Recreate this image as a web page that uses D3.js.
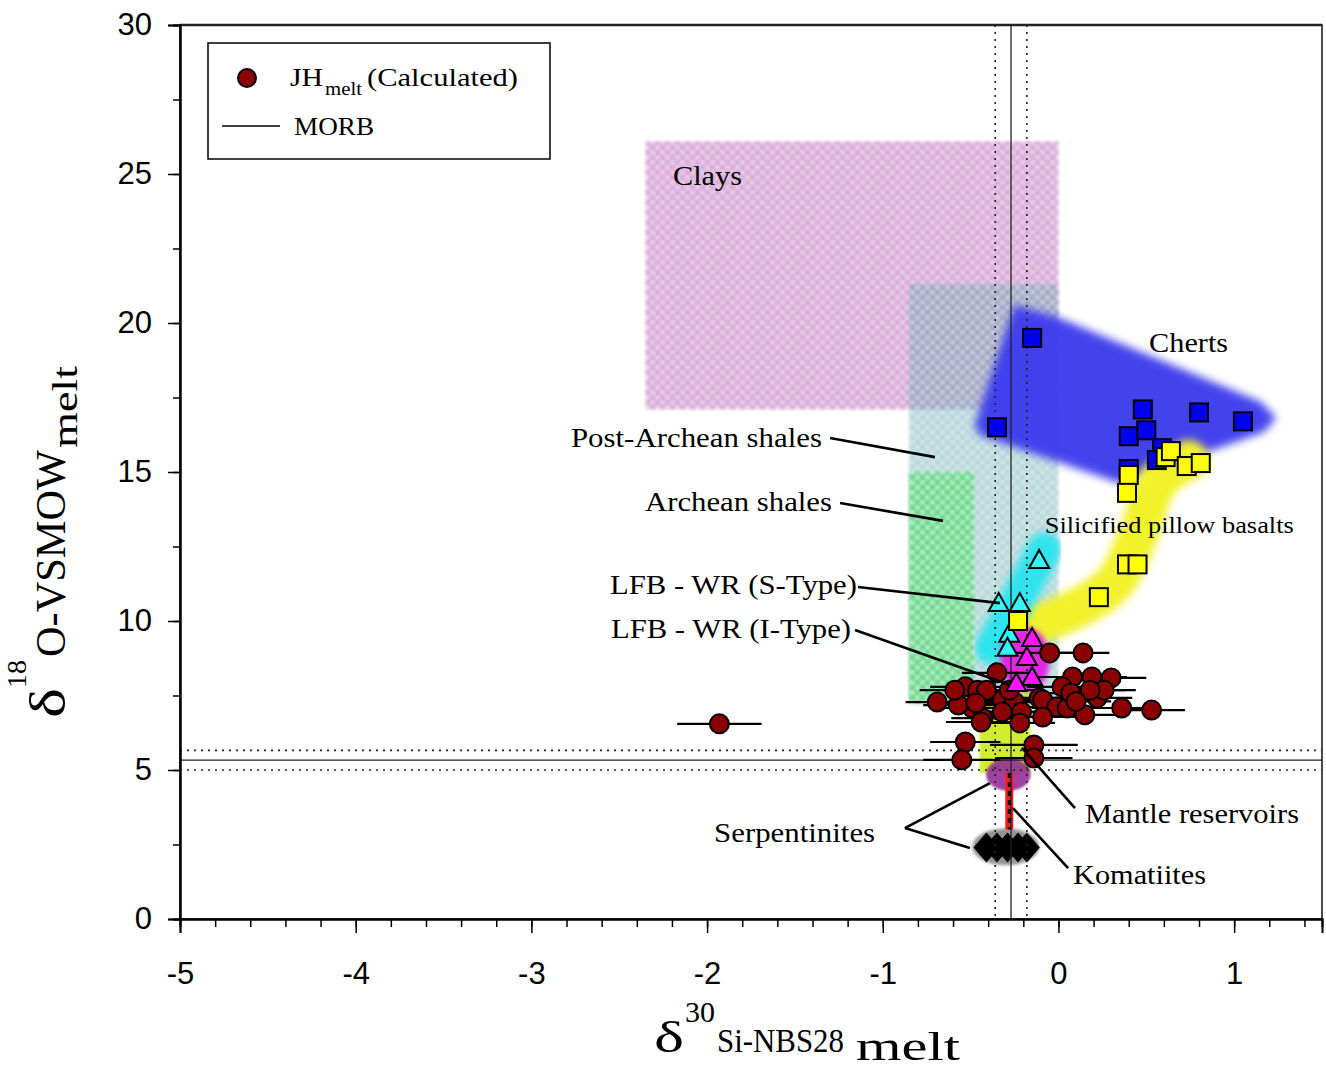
<!DOCTYPE html>
<html><head><meta charset="utf-8">
<script src="https://cdn.jsdelivr.net/npm/d3@7"></script>
<style>body{margin:0;background:#fff}</style>
</head><body>
<svg id="c" width="1326" height="1071"></svg>
<script>
// ---------- data ----------
const xTickVals = [-5,-4,-3,-2,-1,0,1];
const yTickVals = [0,5,10,15,20,25,30];
const xTickLabels = ["-5","-4","-3","-2","-1","0","1"];
const yTickLabels = ["0","5","10","15","20","25","30"];

// JH melt (calculated): d30Si, d18O, 1 s.d. on d30Si
const jhSi  = [-1.93,-0.69,-0.53,-0.46,-0.35,-0.49,-0.43,-0.32,-0.25,-0.21,-0.11,-0.57,-0.41,0.14,-0.05,0.30,0.08,0.02,0.19,0.22,-0.09,-0.01,0.15,0.36,0.53,-0.09,0.05,-0.53,-0.55,-0.14,-0.14,-0.22,-0.44,-0.28,-0.59,0.07,0.26,-0.32,0.18,0.10,-0.47];
const jhO   = [6.55,7.28,7.79,7.68,8.26,7.08,6.74,7.35,7.28,6.95,7.42,7.18,7.68,8.93,8.93,8.09,8.12,7.79,8.12,7.42,7.35,7.11,6.85,7.08,7.01,6.78,7.08,5.94,5.34,5.84,5.40,6.58,6.61,7.68,7.68,7.58,7.68,6.95,7.68,7.30,7.25];
const jhErr = [0.24,0.18,0.2,0.2,0.2,0.2,0.18,0.2,0.2,0.22,0.2,0.2,0.18,0.15,0.2,0.2,0.22,0.2,0.2,0.2,0.22,0.2,0.2,0.18,0.19,0.2,0.2,0.2,0.22,0.25,0.22,0.2,0.2,0.2,0.2,0.2,0.18,0.2,0.2,0.2,0.22];

const chertSi  = [-0.15,-0.35,0.48,0.80,1.05,0.40,0.50,0.59,0.56,0.40];
const chertO   = [19.5,16.5,17.1,17.0,16.7,16.2,16.4,15.8,15.4,15.1];
const pillowSi = [0.61,0.64,0.73,0.81,0.40,0.39,0.39,0.45,0.23,-0.23];
const pillowO  = [15.5,15.7,15.2,15.3,14.9,14.3,11.9,11.9,10.8,10.0];
const sTypeSi  = [-0.11,-0.34,-0.22,-0.28,-0.29];
const sTypeO   = [12.05,10.6,10.6,9.57,9.1];
const iTypeSi  = [-0.15,-0.18,-0.15,-0.24];
const iTypeO   = [9.43,8.79,8.12,7.92];
const serpSi   = [-0.41,-0.35,-0.29,-0.23,-0.18];
const serpO    = [2.4,2.4,2.4,2.4,2.4];

// MORB reference
const morbSi = -0.27, morbSiSd = 0.09;
const morbO = 5.33, morbOSd = 0.33;

// fields
const claysField   = [-2.35, 0.0, 17.1, 26.1];     // x0,x1,y0,y1
const postArchField= [-0.85, 0.0, 7.2, 21.3];
const archField    = [-0.85, -0.48, 7.3, 15.0];
const mantleField  = [-0.45, -0.16, 4.9, 7.6];
const chertField   = [[-0.25,20.6],[0.006,20.17],[1.153,17.35],[1.239,16.81],[1.17,16.34],[0.347,14.63],[-0.449,16.24],[-0.477,16.58]];
const pillowField  = [[-0.25,9.7],[0.06,10.3],[0.32,11.3],[0.46,13.0],[0.57,14.7],[0.74,15.4]];
const sTypeField   = [[-0.38,9.1],[-0.08,12.4]];
const iTypeField   = [-0.19, 8.7, 0.14, 1.1];     // cx, cy, rx, ry
const komField     = [-0.285, 4.85, 0.127, 0.55];
const komLine      = [-0.28, 4.9, 3.0];
const serpField    = [-0.30, 2.42, 0.19, 0.62];

// annotations
const notes = [
  {t:"Clays", x:-2.194, y:24.63, a:"start", w:69},
  {t:"Cherts", x:0.516, y:19.03, a:"start", w:79},
  {t:"Post-Archean shales", x:-1.346, y:15.84, a:"end", w:251, l:[[[-1.30,16.14],[-0.703,15.50]]]},
  {t:"Archean shales", x:-1.289, y:13.69, a:"end", w:187, l:[[[-1.243,13.96],[-0.657,13.36]]]},
  {t:"Silicified pillow basalts", x:-0.078, y:12.95, a:"start", w:249, fs:24},
  {t:"LFB - WR (S-Type)", x:-1.147, y:10.91, a:"end", w:247, l:[[[-1.141,11.14],[-0.333,10.60]]]},
  {t:"LFB - WR (I-Type)", x:-1.181, y:9.43, a:"end", w:240, l:[[[-1.158,9.70],[-0.276,7.85]]]},
  {t:"Mantle reservoirs", x:0.151, y:3.22, a:"start", w:214, l:[[[0.094,3.72],[-0.208,5.74]]]},
  {t:"Serpentinites", x:-1.96, y:2.58, a:"start", w:161, l:[[[-0.874,3.05],[-0.39,4.56]],[[-0.874,3.05],[-0.504,2.38]]]},
  {t:"Komatiites", x:0.083, y:1.17, a:"start", w:133, l:[[[0.055,1.71],[-0.259,3.72]]]}
];

// ---------- layout ----------
const L=180, R=1322, T=25, B=919;
const svg = d3.select("#c");
const x = d3.scaleLinear().domain([-5,1.5]).range([L,R]);
const y = d3.scaleLinear().domain([0,30]).range([B,T]);
const serif = "'Liberation Serif','Times New Roman',serif";
const sans = "'Liberation Sans',Arial,sans-serif";

const defs = svg.append("defs");
function blur(id, s){
  defs.append("filter").attr("id",id).attr("x","-30%").attr("y","-30%").attr("width","160%").attr("height","160%")
    .append("feGaussianBlur").attr("stdDeviation",s);
}
blur("b1",1.2); blur("b15",1.6); blur("b2",2.5); blur("b3",4);
function checker(id, base, spot, size){
  const p = defs.append("pattern").attr("id",id).attr("patternUnits","userSpaceOnUse").attr("width",size).attr("height",size);
  p.append("rect").attr("width",size).attr("height",size).attr("fill",base);
  p.append("circle").attr("cx",size/4).attr("cy",size/4).attr("r",size/4.2).attr("fill",spot);
  p.append("circle").attr("cx",3*size/4).attr("cy",3*size/4).attr("r",size/4.2).attr("fill",spot);
}
checker("pClay","#d29ad2","#ecd0ec",10);
checker("pShale","#5ea6ac","#a8d4d6",10);
checker("pArch","#4ad872","#c0f4cc",10);

svg.append("clipPath").attr("id","plot").append("rect").attr("x",L).attr("y",T).attr("width",R-L).attr("height",B-T);
const g = svg.append("g").attr("clip-path","url(#plot)");

function rectF(f, fill, op, filt){
  g.append("rect").attr("x",x(f[0])).attr("y",y(f[3])).attr("width",x(f[1])-x(f[0])).attr("height",y(f[2])-y(f[3]))
   .attr("fill",fill).attr("opacity",op).attr("filter",`url(#${filt})`);
}
rectF(claysField,"url(#pClay)",0.85,"b15");
rectF(postArchField,"url(#pShale)",0.45,"b15");
rectF(archField,"url(#pArch)",0.8,"b15");

g.append("path").attr("d", d3.line().x(d=>x(d[0])).y(d=>y(d[1]))(chertField)+"Z")
  .attr("fill","#3c3cee").attr("opacity",0.97).attr("filter","url(#b3)");
g.append("path").attr("d", d3.line().curve(d3.curveCatmullRom).x(d=>x(d[0])).y(d=>y(d[1]))(pillowField))
  .attr("fill","none").attr("stroke","#f2f22a").attr("stroke-width",40).attr("stroke-linecap","round").attr("filter","url(#b3)");
g.append("path").attr("d", d3.line().x(d=>x(d[0])).y(d=>y(d[1]))(sTypeField))
  .attr("stroke","#2ee4ee").attr("stroke-width",34).attr("stroke-linecap","round").attr("filter","url(#b3)");
g.append("ellipse").attr("cx",x(iTypeField[0])).attr("cy",y(iTypeField[1]))
  .attr("rx",x(iTypeField[2])-x(0)).attr("ry",y(0)-y(iTypeField[3])).attr("fill","#e226e2").attr("filter","url(#b2)");
rectF(mantleField,"#ccec1a",0.9,"b1");
g.append("ellipse").attr("cx",x(komField[0])).attr("cy",y(komField[1]))
  .attr("rx",x(komField[2])-x(0)).attr("ry",y(0)-y(komField[3])).attr("fill","#952f97").attr("opacity",0.9).attr("filter","url(#b1)");
g.append("ellipse").attr("cx",x(serpField[0])).attr("cy",y(serpField[1]))
  .attr("rx",x(serpField[2])-x(0)).attr("ry",y(0)-y(serpField[3])).attr("fill","#888").attr("opacity",0.9).attr("filter","url(#b15)");
g.append("line").attr("x1",x(komLine[0])).attr("x2",x(komLine[0])).attr("y1",y(komLine[1])).attr("y2",y(komLine[2]))
  .attr("stroke","#ff1a1a").attr("stroke-width",8);
g.append("line").attr("x1",x(komLine[0])).attr("x2",x(komLine[0])).attr("y1",y(komLine[1])).attr("y2",y(komLine[2]))
  .attr("stroke","#000").attr("stroke-width",3).attr("stroke-dasharray","5,4");
g.selectAll(".dia").data(serpSi.map((v,i)=>[v,serpO[i]])).join("path")
  .attr("d","M0,-15L13,0L0,15L-13,0Z").attr("transform",d=>`translate(${x(d[0])},${y(d[1])})`).attr("fill","#000");

// MORB lines
function vline(v,dash){ g.append("line").attr("x1",x(v)).attr("x2",x(v)).attr("y1",T).attr("y2",B).attr("stroke","#222").attr("stroke-width",dash?1.6:1.3).attr("stroke-dasharray",dash?"2,5":null); }
function hline(v,dash){ g.append("line").attr("x1",L).attr("x2",R).attr("y1",y(v)).attr("y2",y(v)).attr("stroke","#222").attr("stroke-width",dash?1.6:1.3).attr("stroke-dasharray",dash?"2,5":null); }
vline(morbSi,false); vline(morbSi-morbSiSd,true); vline(morbSi+morbSiSd,true);
hline(morbO,false); hline(morbO-morbOSd,true); hline(morbO+morbOSd,true);

// JH points
const jh = jhSi.map((v,i)=>({x:v,y:jhO[i],e:jhErr[i]}));
g.selectAll(".eb").data(jh).join("line")
  .attr("x1",d=>x(d.x-d.e)).attr("x2",d=>x(d.x+d.e)).attr("y1",d=>y(d.y)).attr("y2",d=>y(d.y))
  .attr("stroke","#000").attr("stroke-width",2.2);
g.selectAll(".jh").data(jh).join("circle")
  .attr("cx",d=>x(d.x)).attr("cy",d=>y(d.y)).attr("r",9.5).attr("fill","#8b0000").attr("stroke","#000").attr("stroke-width",2);

function tri(xs,ys,fill){
  g.selectAll(null).data(xs.map((v,i)=>[v,ys[i]])).join("path")
   .attr("d","M0,-10L10,8L-10,8Z").attr("transform",d=>`translate(${x(d[0])},${y(d[1])})`)
   .attr("fill",fill).attr("stroke","#000").attr("stroke-width",2);
}
tri(sTypeSi,sTypeO,"#33f6f6");
tri(iTypeSi,iTypeO,"#ff14ff");
function sq(xs,ys,fill){
  g.selectAll(null).data(xs.map((v,i)=>[v,ys[i]])).join("rect")
   .attr("x",d=>x(d[0])-9).attr("y",d=>y(d[1])-9).attr("width",18).attr("height",18)
   .attr("fill",fill).attr("stroke","#000").attr("stroke-width",2);
}
sq(chertSi,chertO,"#0000f0");
sq(pillowSi,pillowO,"#ffff00");

// annotations
notes.forEach(n=>{
  (n.l||[]).forEach(seg=>{
    svg.append("line").attr("x1",x(seg[0][0])).attr("y1",y(seg[0][1])).attr("x2",x(seg[1][0])).attr("y2",y(seg[1][1]))
      .attr("stroke","#000").attr("stroke-width",2.6);
  });
  svg.append("text").attr("x",x(n.x)).attr("y",y(n.y)).attr("text-anchor",n.a)
    .attr("font-family",serif).attr("font-size",n.fs||27).attr("textLength",n.w).attr("lengthAdjust","spacingAndGlyphs")
    .text(n.t);
});

// frame
svg.append("rect").attr("x",L).attr("y",T).attr("width",R-L).attr("height",B-T).attr("fill","none").attr("stroke","#111").attr("stroke-width",1.5);
svg.append("line").attr("x1",L).attr("x2",R).attr("y1",T).attr("y2",T).attr("stroke","#222").attr("stroke-width",2.5);

// axes
const xMinor = d3.range(-5,1.5001,0.2).map(v=>+v.toFixed(2));
const yMinor = d3.range(0,30.001,2.5);
const xa = svg.append("g").attr("transform",`translate(0,${B})`);
xa.call(d3.axisBottom(x).tickValues(xMinor).tickSize(8).tickFormat(""));
xa.append("g").call(d3.axisBottom(x).tickValues(xTickVals).tickSize(14).tickPadding(29).tickFormat((d,i)=>xTickLabels[i]));
const ya = svg.append("g").attr("transform",`translate(${L},0)`);
ya.call(d3.axisLeft(y).tickValues(yMinor).tickSize(7).tickFormat(""));
ya.append("g").call(d3.axisLeft(y).tickValues(yTickVals).tickSize(12).tickPadding(16).tickFormat((d,i)=>yTickLabels[i]));
svg.selectAll(".domain").attr("stroke","#000").attr("stroke-width",2);
svg.selectAll(".tick line").attr("stroke","#000").attr("stroke-width",1.5);
svg.selectAll(".tick text").attr("font-family",sans).attr("font-size",31).attr("fill","#000");

// axis titles
const xt = svg.append("g").attr("font-family",serif).attr("fill","#000");
xt.append("text").attr("x",654).attr("y",1052).attr("font-size",44).attr("textLength",30).attr("lengthAdjust","spacingAndGlyphs").text("δ");
xt.append("text").attr("x",685).attr("y",1022).attr("font-size",30).text("30");
xt.append("text").attr("x",717).attr("y",1052).attr("font-size",33).attr("textLength",127).attr("lengthAdjust","spacingAndGlyphs").text("Si-NBS28");
xt.append("text").attr("x",856).attr("y",1060).attr("font-size",41).attr("textLength",104).attr("lengthAdjust","spacingAndGlyphs").text("melt");

const yt = svg.append("g").attr("transform","rotate(-90)").attr("font-family",serif).attr("fill","#000");
yt.append("text").attr("x",-718).attr("y",65).attr("font-size",50).attr("textLength",30).attr("lengthAdjust","spacingAndGlyphs").text("δ");
yt.append("text").attr("x",-688).attr("y",26).attr("font-size",28).text("18");
yt.append("text").attr("x",-657).attr("y",65).attr("font-size",43).attr("textLength",207).attr("lengthAdjust","spacingAndGlyphs").text("O-VSMOW");
yt.append("text").attr("x",-448).attr("y",77).attr("font-size",35).attr("textLength",82).attr("lengthAdjust","spacingAndGlyphs").text("melt");

// legend
const lg = svg.append("g");
lg.append("rect").attr("x",208).attr("y",43).attr("width",342).attr("height",116).attr("fill","#fff").attr("stroke","#000").attr("stroke-width",1.5);
lg.append("circle").attr("cx",247).attr("cy",78).attr("r",9).attr("fill","#8b0000").attr("stroke","#000").attr("stroke-width",2);
lg.append("line").attr("x1",222).attr("x2",280).attr("y1",126).attr("y2",126).attr("stroke","#000").attr("stroke-width",1.5);
const lt = lg.append("g").attr("font-family",serif).attr("fill","#000");
lt.append("text").attr("x",290).attr("y",86).attr("font-size",26).attr("textLength",33).attr("lengthAdjust","spacingAndGlyphs").text("JH");
lt.append("text").attr("x",325).attr("y",95).attr("font-size",19).attr("textLength",37).attr("lengthAdjust","spacingAndGlyphs").text("melt");
lt.append("text").attr("x",367).attr("y",86).attr("font-size",26).attr("textLength",151).attr("lengthAdjust","spacingAndGlyphs").text("(Calculated)");
lt.append("text").attr("x",294).attr("y",135).attr("font-size",26).attr("textLength",80).attr("lengthAdjust","spacingAndGlyphs").text("MORB");
</script>
</body></html>
